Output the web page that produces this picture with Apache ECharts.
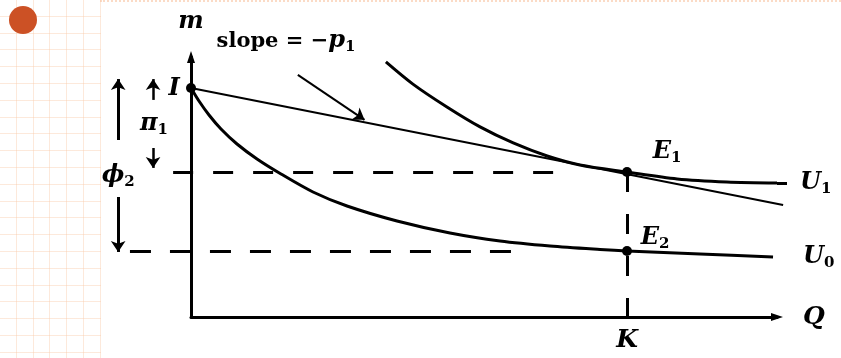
<!DOCTYPE html>
<html>
<head>
<meta charset="utf-8">
<script src="https://cdn.jsdelivr.net/npm/echarts@6/dist/echarts.min.js"></script>
<style>
html,body{margin:0;padding:0;background:#fff;}
#bg{position:absolute;left:0;top:0;width:101px;height:358px;
background-image:
 repeating-linear-gradient(to right, transparent 0, transparent 15.8px, rgba(249,200,165,0.4) 15.8px, rgba(249,200,165,0.4) 16.8px),
 repeating-linear-gradient(to bottom, transparent 0, transparent 15.8px, rgba(249,200,165,0.4) 15.8px, rgba(249,200,165,0.4) 16.8px);}
#topline{position:absolute;left:100px;top:0;width:741px;height:0;border-top:2px dotted rgba(249,195,160,0.6);}
#chart{position:absolute;left:0;top:0;width:841px;height:358px;}
</style>
</head>
<body>
<div id="bg"></div>
<div id="topline"></div>
<div id="chart"></div>
<script>
// ---- data (Q along x, m along y; K = 10, I = 10) ----
const curveU0 = [[0,10.00],[0.183,9.432],[0.413,8.821],[0.688,8.210],[1.055,7.555],[1.514,6.900],[2.064,6.245],[2.798,5.459],[3.578,4.847],[4.725,4.192],[5.940,3.668],[7.087,3.319],[8.234,3.100],[9.381,2.948],[10.00,2.882],[11.674,2.751],[13.349,2.620]];
const curveU1 = [[4.47,11.14],[5.09,10.17],[5.87,9.17],[6.63,8.30],[7.39,7.60],[8.17,7.03],[8.92,6.64],[10.00,6.33],[11.15,6.03],[12.29,5.90],[13.44,5.855]];
const curveU1Tail = [[13.44,5.855],[13.67,5.85]];
const budgetLine = [[0,10.00],[13.58,4.89]];
const pointI = [0, 10.00];
const pointE1 = [10, 6.33];
const pointE2 = [10, 2.882];
const xTickLabels = {10: 'K'};

const FONT = 'DejaVu Serif';
const W = 'bold';
const subRich = {
  i: {fontFamily: FONT, fontStyle: 'italic', fontWeight: W, fontSize: 24, color: '#000', lineHeight: 28},
  r: {fontFamily: FONT, fontWeight: W, fontSize: 21, color: '#000', lineHeight: 28},
  s: {fontFamily: FONT, fontWeight: W, fontSize: 15, color: '#000', lineHeight: 12, verticalAlign: 'bottom'}
};
const black = '#000';

function segs(list, width, dash, arrow) {
  return {
    type: 'lines', coordinateSystem: 'cartesian2d', clip: false, silent: true,
    symbol: arrow ? ['none', 'arrow'] : ['none', 'none'], symbolSize: [8, 11],
    lineStyle: {color: black, width: width, opacity: 1, curveness: 0, type: dash || 'solid'},
    data: list.map(c => ({coords: c}))
  };
}
function lbl(offset, text) {
  return {show: true, position: 'inside', offset: offset, color: black, opacity: 1, textBorderWidth: 0, formatter: text, rich: subRich};
}

const chart = echarts.init(document.getElementById('chart'), null, {renderer: 'canvas'});

chart.setOption({
  animation: false,
  graphic: [{type: 'circle', shape: {cx: 23, cy: 20, r: 14}, style: {fill: '#cc5125'}}],
  grid: {left: 191, top: 57, width: 586, height: 260, containLabel: false},
  xAxis: {
    type: 'value', min: 0, max: 13.44, interval: 10,
    name: 'Q', nameLocation: 'end', nameGap: 26,
    nameTextStyle: {fontFamily: FONT, fontStyle: 'italic', fontWeight: W, fontSize: 25, color: black, verticalAlign: 'middle', align: 'left'},
    axisLine: {show: true, onZero: false, symbol: ['none', 'triangle'], symbolSize: [8, 12], lineStyle: {color: black, width: 3}},
    axisTick: {show: false}, splitLine: {show: false},
    axisLabel: {show: true, margin: 11, showMaxLabel: false, fontFamily: FONT, fontStyle: 'italic', fontWeight: W, fontSize: 25, color: black,
      formatter: v => xTickLabels[v] || ''}
  },
  yAxis: {
    type: 'value', min: 0, max: 11.354,
    name: 'm', nameLocation: 'end', nameGap: 35,
    nameTextStyle: {fontFamily: FONT, fontStyle: 'italic', fontWeight: W, fontSize: 24, color: black, verticalAlign: 'middle', align: 'center'},
    axisLine: {show: true, onZero: false, symbol: ['none', 'triangle'], symbolSize: [8, 12], lineStyle: {color: black, width: 3}},
    axisTick: {show: false}, splitLine: {show: false}, axisLabel: {show: false}
  },
  series: [
    {type: 'line', name: 'U0', data: curveU0, smooth: 0.3, symbol: 'none',
      lineStyle: {color: black, width: 3},
      endLabel: {show: true, distance: 30, color: black, formatter: '{i|U}{s|0}', rich: subRich}},
    {type: 'line', name: 'U1', data: curveU1, smooth: 0.3, symbol: 'none',
      lineStyle: {color: black, width: 3},
      endLabel: {show: true, distance: 23, color: black, formatter: '{i|U}{s|1}', rich: subRich}},
    segs([curveU1Tail], 3),
    segs([budgetLine], 2),
    segs([
      [[-0.41, pointE1[1]], [8.35, pointE1[1]]]
    ], 3, [20, 20]),
    segs([
      [[-1.40, pointE2[1]], [7.43, pointE2[1]]]
    ], 3, [21, 19]),
    segs([
      [[pointE1[0], pointE1[1]], [pointE1[0], 0]]
    ], 3, [20, 22]),
    segs([
      [[-0.87, 9.48], [-0.87, 10.39]],
      [[-0.87, 7.38], [-0.87, 6.51]]
    ], 2.5, null, true),
    segs([
      [[-1.67, 7.73], [-1.67, 10.39]],
      [[-1.67, 5.24], [-1.67, 2.84]]
    ], 3, null, true),
    segs([
      [[2.45, 10.57], [3.98, 8.61]]
    ], 2, null, true),
    {type: 'scatter', name: 'points', clip: false, symbol: 'circle', symbolSize: 10,
      itemStyle: {color: black, opacity: 1},
      data: [
        {value: pointI, label: lbl([-17, 1], '{i|I}')},
        {value: pointE1, label: lbl([40, -20], '{i|E}{s|1}')},
        {value: pointE2, label: lbl([28, -13], '{i|E}{s|2}')}
      ]},
    {type: 'scatter', name: 'notes', clip: false, symbol: 'circle', symbolSize: 1, silent: true,
      itemStyle: {color: '#fff', opacity: 0},
      data: [
        {value: [-0.85, 8.43], label: lbl([0, 0], '{i|π}{s|1}')},
        {value: [-1.67, 6.16], label: lbl([0, 0], '{i|ϕ}{s|2}')},
        {value: [2.18, 12.05], label: lbl([0, 0], '{r|slope = −}{i|p}{s|1}')}
      ]}
  ]
});
</script>
</body>
</html>
